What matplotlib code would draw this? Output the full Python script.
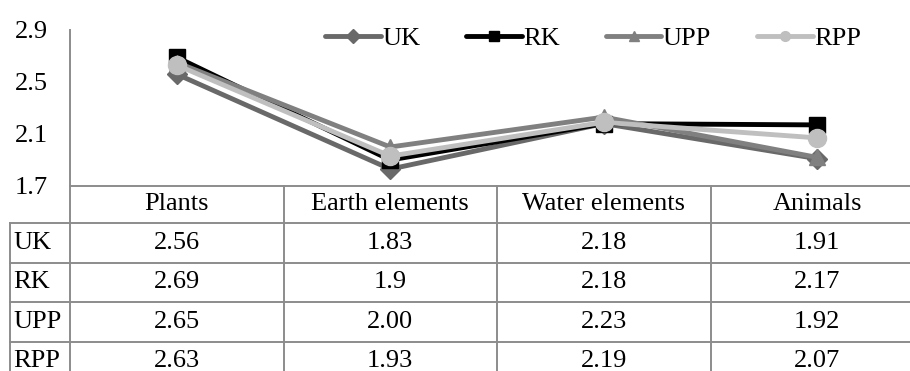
import matplotlib.pyplot as plt
from matplotlib.lines import Line2D

plt.rcParams['font.family'] = ['Liberation Serif', 'DejaVu Serif']

categories = ['Plants', 'Earth elements', 'Water elements', 'Animals']
series_names = ['UK', 'RK', 'UPP', 'RPP']
uk = ['2.56', '1.83', '2.18', '1.91']
rk = ['2.69', '1.9', '2.18', '2.17']
upp = ['2.65', '2.00', '2.23', '1.92']
rpp = ['2.63', '1.93', '2.19', '2.07']
y_ticks = [1.7, 2.1, 2.5, 2.9]

series = [uk, rk, upp, rpp]
colors = ['#696969', '#000000', '#808080', '#bfbfbf']
markers = ['D', 's', '^', 'o']
msizes = [10, 12, 12, 13]
fs = 19

W, H = 910, 371
fig = plt.figure(figsize=(W / 100, H / 100), dpi=100)

# pixel layout
left, right, top, bottom = 70, 924, 30, 186
row_h = 39.5
head_h = 37
lab_left = 10
grid_col = '#8c8c8c'


def fx(x):
    return x / W


def fy(y):
    return 1 - y / H


ax = fig.add_axes([fx(left), fy(bottom), (right - left) / W, (bottom - top) / H])
xs = [i + 0.5 for i in range(len(categories))]
handles = []
for name, vals, c, m, ms in zip(series_names, series, colors, markers, msizes):
    ax.plot(xs, [float(v) for v in vals], color=c, lw=3.5, marker=m, ms=ms,
            solid_joinstyle='round', solid_capstyle='round', zorder=3)
    handles.append(Line2D([], [], color=c, lw=3.5, marker=m, ms=7,
                          solid_capstyle='round'))

ax.set_xlim(0, len(categories))
ax.set_ylim(y_ticks[0], y_ticks[-1])
ax.set_yticks(y_ticks)
ax.set_yticklabels([f'{t:.1f}' for t in y_ticks], fontsize=fs)
ax.set_xticks([])
ax.tick_params(axis='y', length=0, pad=16)
for s in ['top', 'right', 'bottom']:
    ax.spines[s].set_visible(False)
ax.spines['left'].set_color(grid_col)
ax.spines['left'].set_linewidth(1.4)

fig.legend(handles, series_names, loc='center', bbox_to_anchor=(fx(593), fy(38)),
           ncol=4, frameon=False, fontsize=fs, handlelength=2.1,
           handletextpad=0.05, columnspacing=1.75)

# data table under the axis
col_w = (right - left) / len(categories)
row_lines = [bottom + head_h + i * row_h for i in range(len(series) + 1)]


def hline(y, x0, x1):
    fig.add_artist(Line2D([fx(x0), fx(x1)], [fy(y), fy(y)], color=grid_col, lw=1.4))


def vline(x, y0, y1):
    fig.add_artist(Line2D([fx(x), fx(x)], [fy(y0), fy(y1)], color=grid_col, lw=1.4))


hline(bottom, left, right)
for y in row_lines:
    hline(y, lab_left, right)
vline(lab_left, row_lines[0], row_lines[-1])
vline(left, bottom, row_lines[-1])
for i in range(1, len(categories) + 1):
    vline(left + i * col_w, bottom, row_lines[-1])

for j, cat in enumerate(categories):
    fig.text(fx(left + (j + 0.5) * col_w), fy(bottom + head_h / 2), cat,
             ha='center', va='center', fontsize=fs)
for i, (name, vals) in enumerate(zip(series_names, series)):
    yc = row_lines[i] + row_h / 2
    fig.text(fx(lab_left + 3), fy(yc), name, ha='left', va='center', fontsize=fs)
    for j, v in enumerate(vals):
        fig.text(fx(left + (j + 0.5) * col_w), fy(yc), v, ha='center', va='center',
                 fontsize=fs)

fig.savefig('out.png', dpi=100)
